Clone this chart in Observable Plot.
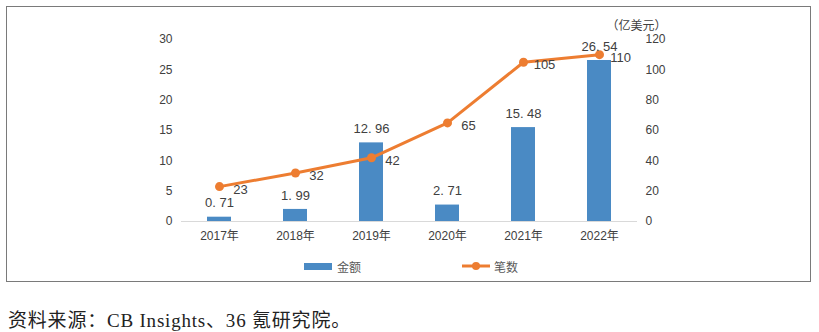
<!DOCTYPE html>
<html>
<head>
<meta charset="utf-8">
<script src="https://cdn.jsdelivr.net/npm/d3@7"></script>
<script src="https://cdn.jsdelivr.net/npm/@observablehq/plot@0.6"></script>
<style>
  html, body { margin: 0; padding: 0; background: #fff; }
  #page { position: relative; width: 819px; height: 332px; overflow: hidden; }
  #frame { position: absolute; left: 6px; top: 6px; width: 805px; height: 276px; border: 1.5px solid #7a7a7a; box-sizing: border-box; }
  #chart { position: absolute; left: 0; top: 0; }
  #legend { position: absolute; left: 0; top: 257px; width: 819px; height: 18px; font-family: 'Noto Sans CJK SC', sans-serif; font-size: 12px; color: #595959; }
  .item { position: absolute; top: 0; display: flex; align-items: center; height: 18px; }
  #caption { position: absolute; left: 8px; top: 305px; font-family: 'Liberation Serif', 'Noto Sans CJK SC', serif; font-size: 19px; letter-spacing: 0.8px; color: #222; white-space: nowrap; }
</style>
</head>
<body>
<div id="page">
  <div id="frame"></div>
  <div id="chart"></div>
  <div id="legend"></div>
  <div id="caption">资料来源：CB Insights、36 氪研究院。</div>
</div>
<script>
const years = ["2017年", "2018年", "2019年", "2020年", "2021年", "2022年"];
const amounts = [0.71, 1.99, 12.96, 2.71, 15.48, 26.54];
const counts = [23, 32, 42, 65, 105, 110];
const leftTicks = [0, 5, 10, 15, 20, 25, 30];
const rightTicks = [0, 20, 40, 60, 80, 100, 120];
const seriesNames = ["金额", "笔数"];
const unitLabel = "（亿美元）";

const blue = "#4a8ac4";
const orange = "#ed7d31";
const ratio = 120 / 30;

const data = years.map((y, i) => ({year: y, amount: amounts[i], count: counts[i]}));
const fmtAmt = d => d3.format(".2f")(d).replace(".", ". ");

const chart = Plot.plot({
  width: 819,
  height: 245,
  marginLeft: 181,
  marginRight: 182,
  marginTop: 39,
  marginBottom: 24,
  style: {fontFamily: "'Liberation Sans', 'Noto Sans CJK SC', sans-serif", fontSize: "12px", color: "#404040", background: "transparent"},
  x: {domain: years, paddingInner: 0.68, paddingOuter: 0.34},
  y: {domain: [0, 30]},
  marks: [
    Plot.axisY({anchor: "left", ticks: leftTicks, tickSize: 0, tickPadding: 9, label: null}),
    Plot.axisY({anchor: "right", ticks: rightTicks.map(t => t / ratio), tickFormat: d => String(Math.round(d * ratio)), tickSize: 0, tickPadding: 8, label: null}),
    Plot.axisX({tickSize: 0, tickPadding: 10, label: null}),
    Plot.barY(data, {x: "year", y: "amount", fill: blue}),
    Plot.ruleY([0], {stroke: "#d9d9d9", strokeWidth: 1}),
    Plot.line(data, {x: "year", y: d => d.count / ratio, stroke: orange, strokeWidth: 3}),
    Plot.dot(data, {x: "year", y: d => d.count / ratio, fill: orange, r: 4.5}),
    Plot.text(data, {x: "year", y: "amount", text: d => fmtAmt(d.amount), dy: -14, fill: "#404040", fontSize: 13}),
    Plot.text(data, {x: "year", y: d => d.count / ratio, text: d => String(d.count), dx: 21, dy: 3, fill: "#404040", fontSize: 13}),
    Plot.text([unitLabel], {frameAnchor: "top-right", text: d => d, textAnchor: "end", dx: 29, dy: -18, fill: "#404040", fontSize: 12})
  ]
});
document.getElementById("chart").appendChild(chart);

const legend = document.getElementById("legend");
legend.innerHTML =
  `<div class="item" style="left:304px"><span style="display:inline-block;width:28px;height:7px;background:${blue};margin-right:5px"></span>${seriesNames[0]}</div>` +
  `<div class="item" style="left:462px"><svg width="28" height="10" style="margin-right:4px"><line x1="0" y1="5" x2="28" y2="5" stroke="${orange}" stroke-width="3"/><circle cx="14" cy="5" r="4" fill="${orange}"/></svg>${seriesNames[1]}</div>`;
</script>
</body>
</html>
